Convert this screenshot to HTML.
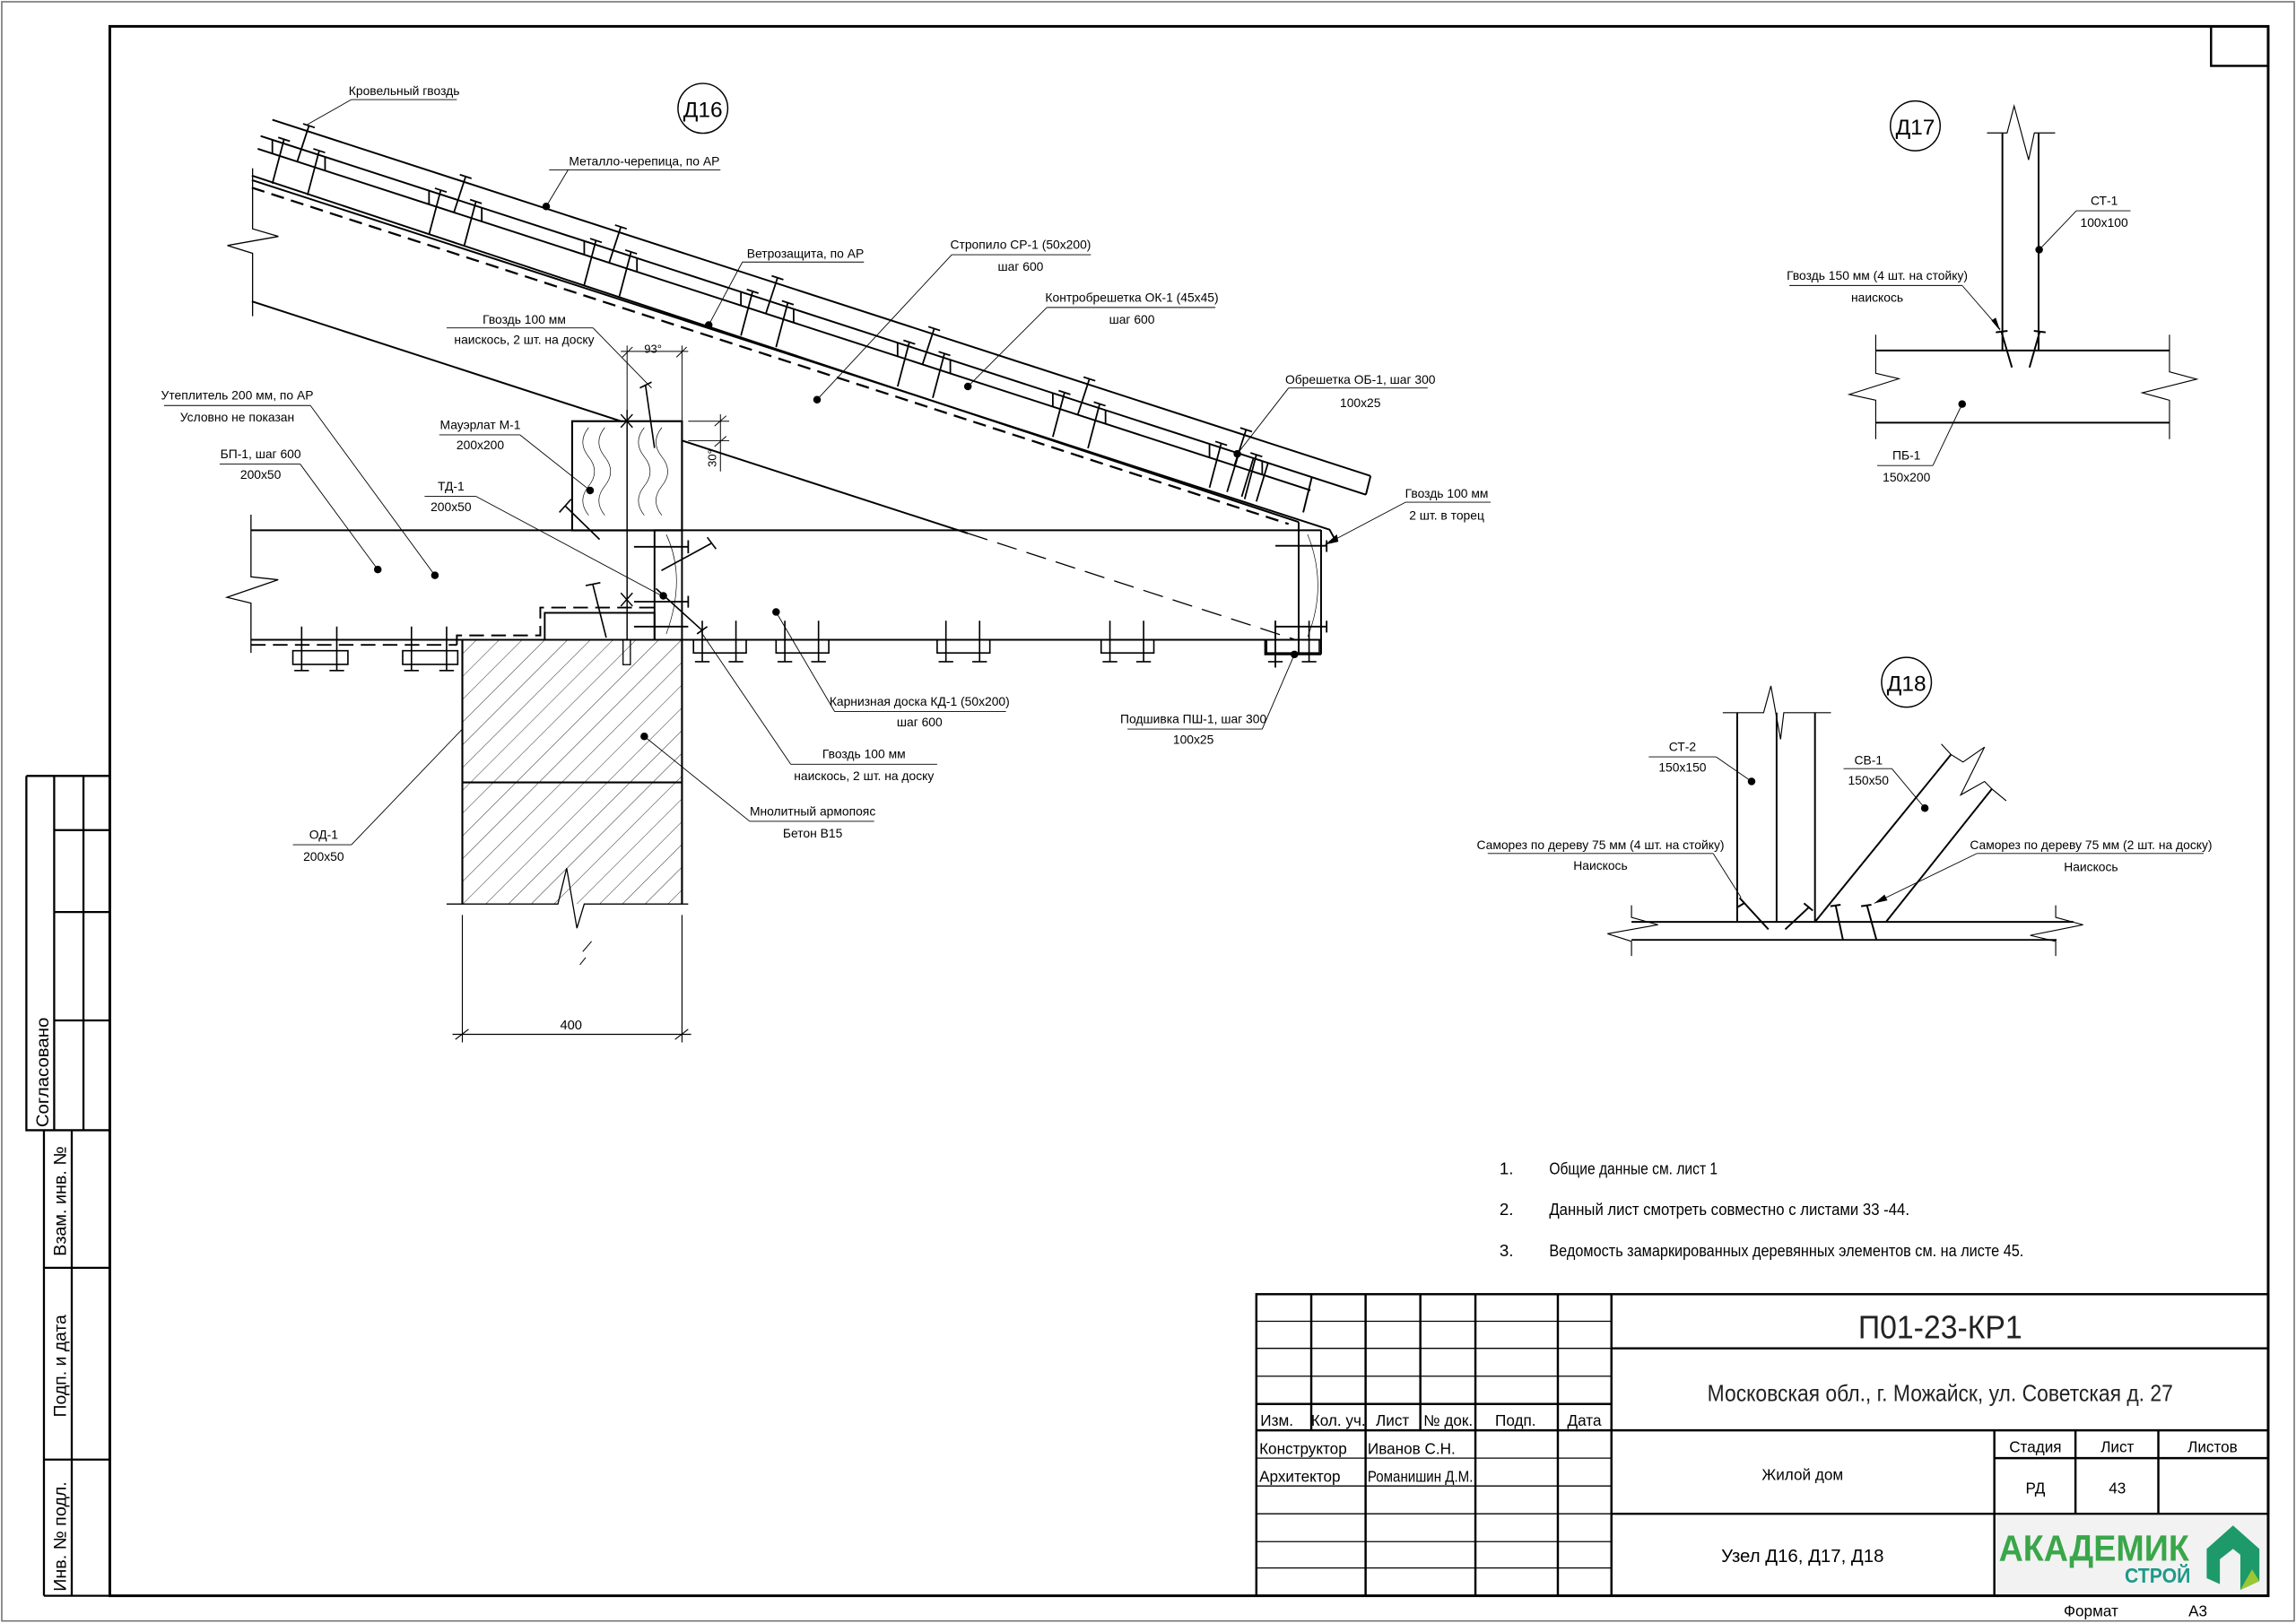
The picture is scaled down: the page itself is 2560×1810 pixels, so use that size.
<!DOCTYPE html>
<html><head><meta charset="utf-8"><style>
html,body{margin:0;padding:0;background:#fff;}
svg{display:block;}
text{font-family:"Liberation Sans Narrow","Liberation Sans","DejaVu Sans Condensed",sans-serif;fill:#000;}
</style></head><body>
<svg id="s" xmlns="http://www.w3.org/2000/svg" width="2560" height="1810" viewBox="0 0 1568 1108.6" preserveAspectRatio="none">
<defs>
<pattern id="hatch" patternUnits="userSpaceOnUse" width="11" height="11" patternTransform="rotate(45)">
<line x1="0" y1="0" x2="0" y2="11" stroke="#000" stroke-width="0.5"/>
</pattern>
<clipPath id="cb"><rect x="315.75" y="437" width="150" height="180.5"/></clipPath>
</defs>
<rect x="0" y="0" width="1568" height="1108.6" fill="#fff"/>
<rect x="1.2" y="1.2" width="1565.6" height="1106" fill="none" stroke="#777" stroke-width="1"/>
<g fill="none" stroke="#000">
<rect x="75" y="18" width="1474" height="1072" stroke-width="1.8"/>
<rect x="1510" y="18" width="39" height="27" stroke-width="1.5"/>
<path d="M18 530 H75 M18 530 V772 H75 M37 530 V772 M57 530 V772 M37 567 H75 M37 623 H75 M37 697 H75" stroke-width="1.4"/>
<path d="M30 772 V1090 M49 772 V1090 M30 866 H75 M30 997 H75 M30 1090 H75" stroke-width="1.4"/>
<g stroke-width="1.5">
<rect x="858" y="884" width="691" height="206"/>
<line x1="895.5" y1="884" x2="895.5" y2="977"/>
<line x1="932.6" y1="884" x2="932.6" y2="1090"/>
<line x1="970" y1="884" x2="970" y2="977"/>
<line x1="1007.6" y1="884" x2="1007.6" y2="1090"/>
<line x1="1063.9" y1="884" x2="1063.9" y2="1090"/>
<line x1="1100.5" y1="884" x2="1100.5" y2="1090"/>
<line x1="858" y1="959" x2="1100.5" y2="959"/>
<line x1="858" y1="977" x2="1549" y2="977"/>
<line x1="1100.5" y1="921" x2="1549" y2="921"/>
<line x1="1100.5" y1="1034" x2="1549" y2="1034"/>
<line x1="1362" y1="977" x2="1362" y2="1090"/>
<line x1="1417.4" y1="977" x2="1417.4" y2="1034"/>
<line x1="1474" y1="977" x2="1474" y2="1034"/>
<line x1="1362" y1="996" x2="1549" y2="996"/>
</g>
<g stroke-width="0.8">
<line x1="858" y1="902.5" x2="1100.5" y2="902.5"/>
<line x1="858" y1="921" x2="1100.5" y2="921"/>
<line x1="858" y1="940" x2="1100.5" y2="940"/>
<line x1="858" y1="996" x2="1100.5" y2="996"/>
<line x1="858" y1="1015" x2="1100.5" y2="1015"/>
<line x1="858" y1="1034" x2="1100.5" y2="1034"/>
<line x1="858" y1="1053" x2="1100.5" y2="1053"/>
<line x1="858" y1="1071" x2="1100.5" y2="1071"/>
</g>
</g>
<rect x="1363" y="1035" width="185" height="54" fill="#f2f2f2"/>
<text x="1365" y="1066" font-size="25" font-weight="bold" style="fill:#3aa64a" textLength="130" lengthAdjust="spacingAndGlyphs">АКАДЕМИК</text>
<text x="1451" y="1081" font-size="14" font-weight="bold" style="fill:#1e9a8a" textLength="45" lengthAdjust="spacingAndGlyphs">СТРОЙ</text>
<path d="M1525 1042 L1543 1058 L1543 1080 L1530 1086 L1530 1062 L1525 1058 L1516 1065 L1516 1082 L1507 1078 L1507 1058 Z" fill="#1e9a6a"/>
<path d="M1530 1086 L1543 1080 L1538 1072 Z" fill="#9bc832"/>

<g font-size="10.5">
<text x="872" y="974" text-anchor="middle">Изм.</text>
<text x="914" y="974" text-anchor="middle">Кол. уч.</text>
<text x="951" y="974" text-anchor="middle">Лист</text>
<text x="989" y="974" text-anchor="middle">№ док.</text>
<text x="1035" y="974" text-anchor="middle">Подп.</text>
<text x="1082" y="974" text-anchor="middle">Дата</text>
<text x="860" y="993">Конструктор</text>
<text x="860" y="1012">Архитектор</text>
<text x="934" y="993">Иванов С.Н.</text>
<text x="934" y="1012" textLength="72" lengthAdjust="spacingAndGlyphs">Романишин Д.М.</text>
<text x="1390" y="992" text-anchor="middle">Стадия</text>
<text x="1446" y="992" text-anchor="middle">Лист</text>
<text x="1511" y="992" text-anchor="middle">Листов</text>
<text x="1390" y="1020" text-anchor="middle">РД</text>
<text x="1446" y="1020" text-anchor="middle">43</text>
<text x="1231" y="1011" text-anchor="middle">Жилой дом</text>
<text x="1231" y="1067" text-anchor="middle" font-size="12.5">Узел Д16, Д17, Д18</text>
<text x="1428" y="1104" text-anchor="middle">Формат</text>
<text x="1501" y="1104" text-anchor="middle">А3</text>
</g>
<text x="1325" y="914" text-anchor="middle" font-size="22" textLength="112" lengthAdjust="spacingAndGlyphs" style="fill:#222">П01-23-КР1</text>
<text x="1325" y="957" text-anchor="middle" font-size="16" textLength="318" lengthAdjust="spacingAndGlyphs" style="fill:#222">Московская обл., г. Можайск, ул. Советская д. 27</text>
<g font-size="12">
<text transform="translate(33,770) rotate(-90)" textLength="75" lengthAdjust="spacingAndGlyphs">Согласовано</text>
<text transform="translate(45,858) rotate(-90)" textLength="75" lengthAdjust="spacingAndGlyphs">Взам. инв. №</text>
<text transform="translate(45,968) rotate(-90)" textLength="70" lengthAdjust="spacingAndGlyphs">Подп. и дата</text>
<text transform="translate(45,1087) rotate(-90)" textLength="75" lengthAdjust="spacingAndGlyphs">Инв. № подл.</text>
</g>

<g font-size="11.5">
<text x="1024" y="802">1.</text><text x="1058" y="802" textLength="115" lengthAdjust="spacingAndGlyphs">Общие данные см. лист 1</text>
<text x="1024" y="830">2.</text><text x="1058" y="830" textLength="246" lengthAdjust="spacingAndGlyphs">Данный лист смотреть совместно с листами 33 -44.</text>
<text x="1024" y="858">3.</text><text x="1058" y="858" textLength="324" lengthAdjust="spacingAndGlyphs">Ведомость замаркированных деревянных элементов см. на листе 45.</text>
</g>

<circle cx="480" cy="74" r="17" fill="none" stroke="#000" stroke-width="0.9"/>
<text x="480" y="80" font-size="15" text-anchor="middle">Д16</text>
<g id="roof" fill="none" stroke="#000" stroke-width="1.2">
<line x1="186" y1="81.8" x2="936" y2="325.1"/>
<line x1="178" y1="92.9" x2="932.8" y2="337.9"/>
<line x1="936" y1="325.1" x2="932.8" y2="337.9"/>
<line x1="176" y1="101.6" x2="895" y2="334.9"/>
<line x1="896" y1="325.5" x2="890" y2="350"/>
<line x1="172" y1="119.9" x2="886.9" y2="356.6"/>
<polyline points="172,123 908,361.8 912,369"/>
<line x1="172" y1="128.2" x2="880" y2="357.9" stroke-dasharray="9,5" stroke-width="1.4"/>
<line x1="172" y1="205.8" x2="425" y2="288"/>
<line x1="466" y1="301" x2="661" y2="364.3"/>
<line x1="661" y1="364.3" x2="884" y2="436.7" stroke-width="0.8" stroke-dasharray="14,7"/>
<polyline points="172.5,114.9 172.5,156.3 190.1,161.5 155.3,167.7 172.5,173 172.5,216" stroke-width="0.8"/>
</g>
<g id="nails" fill="none" stroke="#000" stroke-width="1.1"></g>

<g fill="none" stroke="#000" stroke-width="1.2">
<line x1="171.4" y1="362.2" x2="902.2" y2="362.2"/>
<line x1="171.4" y1="437" x2="902.2" y2="437"/>
<line x1="171.4" y1="440.5" x2="312" y2="440.5" stroke-dasharray="10,5"/>
<polyline points="312,440.5 312,434 369,434 369,415 447,415" stroke-dasharray="10,5"/>
<polyline points="171.4,351.6 171.4,394 190,396 155,408 171.4,412 171.4,446" stroke-width="0.8"/>
<rect x="390.75" y="287.7" width="75" height="74.6" stroke-width="1.3"/>
<rect x="372" y="418.6" width="75" height="18.4"/>
<rect x="447" y="362.2" width="18.75" height="74.8"/>
<line x1="428.25" y1="280" x2="428.25" y2="437" stroke-width="0.9"/>
<path d="M424 283 L432 292 M432 283 L424 292 M424 405 L432 414 M432 405 L424 414" stroke-width="0.9"/>
<rect x="425.5" y="437" width="5" height="17" stroke-width="0.8"/>
<rect x="315.75" y="437" width="150" height="180.5" fill="url(#hatch)" stroke="none" clip-path="url(#cb)"/>
<path d="M315.75 437 V617.5 M465.75 437 V617.5 M315.75 534.4 H465.75" stroke-width="1.3"/>
<polyline points="305,617.5 381,617.5 387,593 394,634 399,617.5 470,617.5" stroke-width="0.8"/>
<path d="M404 643 L398 650 M400 654 L396 659" stroke-width="0.6"/>
<path d="M315.75 625 V712 M465.75 625 V712 M309 706.5 H472 M311 710 L320 703 M461 710 L470 703" stroke-width="0.7"/>
<path d="M886.9 356.6 V447 M902.2 362 V447 M864 436.7 V447 H902.2" stroke-width="1.2"/>
<path d="M871 372.8 H906 M906 369 V377 M871 428 H906 M906 424 V432 M871 424 V456" stroke-width="1.1"/>
<path d="M386 345.6 L409.5 368.5 M382 350 L390 341" stroke-width="1"/>
<path d="M404.8 399 L414 435.5 M400 400 L410 398" stroke-width="1"/>
<path d="M440.8 263 L447 306 M437 265 L445 261" stroke-width="1"/>
<path d="M451.7 389.7 L486 371 M483 367 L489 375" stroke-width="1"/>
<path d="M433 373.5 H470 M470 369 V378 M433 411 H470 M470 407 V415 M433 428 H470" stroke-width="1.1"/>
<path d="M448 402 L480 431 M476 433 L483 428" stroke-width="1"/>
<path d="M402 292 q-8 10 0 20 q8 10 0 20 q-8 10 0 20 M413 292 q-8 10 0 20 q8 10 0 20 q-8 10 0 20 M440 292 q-8 10 0 20 q8 10 0 20 q-8 10 0 20 M452 292 q-8 10 0 20 q8 10 0 20 q-8 10 0 20 M893 365 q14 35 0 70 M455 365 q14 30 0 68" stroke-width="0.4"/>
<path d="M428.25 236 V282 M465.75 236 V287 M424 240 H470 M425 244 L432 237 M462 244 L469 237" stroke-width="0.6"/>
<path d="M470 287.7 H498 M470 301 H498 M492 283 V322 M488 291 L496 284 M488 305 L496 298" stroke-width="0.6"/>
</g>
<g id="boards" fill="none" stroke="#000" stroke-width="1"></g>
<text x="446" y="241" font-size="8" text-anchor="middle">93°</text>
<text transform="translate(489,313) rotate(-90)" font-size="8" text-anchor="middle">30°</text>
<text x="390" y="703" font-size="9" text-anchor="middle">400</text>

<g fill="none" stroke="#000" stroke-width="0.55">
<path d="M240 68 H312 M240 68 L210 85"/>
<path d="M375 116 H492 M388 116 L373 141"/>
<path d="M507 179 H590 M507 179 L484 222"/>
<path d="M650 174 H745 M650 174 L558 273"/>
<path d="M715 210 H830 M715 210 L661 264"/>
<path d="M880 265 H975 M880 265 L845 310"/>
<path d="M960 343 H1018 M960 343 L905 372"/>
<path d="M305 224 H405 M405 224 L445 265"/>
<path d="M112 277 H212 M212 277 L297 393"/>
<path d="M150 317 H205 M205 317 L258 389"/>
<path d="M300 297 H355 M355 297 L403 335"/>
<path d="M290 339 H325 M325 339 L452 407"/>
<path d="M570 486 H687 M570 486 L530 418"/>
<path d="M770 498 H862 M862 498 L884 447"/>
<path d="M540 522 H640 M540 522 L479 432"/>
<path d="M512 561 H597 M512 561 L440 503"/>
<path d="M200 577 H240 M240 577 L315.75 498"/>
</g>
<g fill="#000">
<circle cx="373" cy="141" r="2.6"/><circle cx="484" cy="222" r="2.6"/><circle cx="558" cy="273" r="2.6"/>
<circle cx="661" cy="264" r="2.6"/><circle cx="845" cy="310" r="2.6"/><circle cx="297" cy="393" r="2.6"/>
<circle cx="258" cy="389" r="2.6"/><circle cx="403" cy="335" r="2.6"/><circle cx="453" cy="407" r="2.6"/>
<circle cx="530" cy="418" r="2.6"/><circle cx="884" cy="447" r="2.6"/><circle cx="440" cy="503" r="2.6"/>
<path d="M905 372 L913 365 L914 370 Z"/>
</g>
<g font-size="8.5" text-anchor="middle">
<text x="276" y="65">Кровельный гвоздь</text>
<text x="440" y="113">Металло-черепица, по АР</text>
<text x="550" y="176">Ветрозащита, по АР</text>
<text x="697" y="170">Стропило СР-1 (50х200)</text><text x="697" y="185">шаг 600</text>
<text x="773" y="206">Контробрешетка ОК-1 (45х45)</text><text x="773" y="221">шаг 600</text>
<text x="929" y="262">Обрешетка ОБ-1, шаг 300</text><text x="929" y="278">100х25</text>
<text x="988" y="340">Гвоздь 100 мм</text><text x="988" y="355">2 шт. в торец</text>
<text x="358" y="221">Гвоздь 100 мм</text><text x="358" y="235">наискось, 2 шт. на доску</text>
<text x="162" y="273">Утеплитель 200 мм, по АР</text><text x="162" y="288">Условно не показан</text>
<text x="178" y="313">БП-1, шаг 600</text><text x="178" y="327">200х50</text>
<text x="328" y="293">Мауэрлат М-1</text><text x="328" y="307">200х200</text>
<text x="308" y="335">ТД-1</text><text x="308" y="349">200х50</text>
<text x="628" y="482">Карнизная доска КД-1 (50х200)</text><text x="628" y="496">шаг 600</text>
<text x="815" y="494">Подшивка ПШ-1, шаг 300</text><text x="815" y="508">100х25</text>
<text x="590" y="518">Гвоздь 100 мм</text><text x="590" y="533">наискось, 2 шт. на доску</text>
<text x="555" y="557">Мнолитный армопояс</text><text x="555" y="572">Бетон В15</text>
<text x="221" y="573">ОД-1</text><text x="221" y="588">200х50</text>
</g>

<circle cx="1308" cy="86" r="17" fill="none" stroke="#000" stroke-width="0.9"/>
<text x="1308" y="92" font-size="15" text-anchor="middle">Д17</text>
<g fill="none" stroke="#000" stroke-width="1.2">
<line x1="1367.5" y1="90.8" x2="1367.5" y2="239.4"/>
<line x1="1392.2" y1="90.8" x2="1392.2" y2="239.4"/>
<polyline points="1357,90.8 1370.7,90.8 1375.5,72.4 1385.4,109.2 1389.3,90.8 1403.5,90.8" stroke-width="0.7"/>
<line x1="1281" y1="239.4" x2="1481.6" y2="239.4"/>
<line x1="1281" y1="288.7" x2="1481.6" y2="288.7"/>
<polyline points="1281,228.6 1281,255 1296.8,258.7 1262.9,269.4 1281,273.4 1281,300" stroke-width="0.7"/>
<polyline points="1481.6,228.6 1481.6,254 1500.2,259 1463,268.3 1481.6,273.4 1481.6,300" stroke-width="0.7"/>
<path d="M1366.8 226.5 L1374 251 M1363 227 L1371 226 M1393 226.5 L1386 251 M1389 226 L1397 227"/>
</g>
<g fill="none" stroke="#000" stroke-width="0.55">
<path d="M1418 144 H1455 M1418 144 L1392.6 170.6"/>
<path d="M1222 195 H1340 M1340 195 L1366 225"/>
<path d="M1282 318 H1320 M1320 318 L1340 276"/>
</g>
<g fill="#000"><circle cx="1392.6" cy="170.6" r="2.6"/><circle cx="1340" cy="276" r="2.6"/><path d="M1366 226 L1360 219 L1363 217 Z"/></g>
<g font-size="8.5" text-anchor="middle">
<text x="1437" y="140">СТ-1</text><text x="1437" y="155">100х100</text>
<text x="1282" y="191">Гвоздь 150 мм (4 шт. на стойку)</text><text x="1282" y="206">наискось</text>
<text x="1302" y="314">ПБ-1</text><text x="1302" y="329">150х200</text>
</g>

<circle cx="1302" cy="466" r="17" fill="none" stroke="#000" stroke-width="0.9"/>
<text x="1302" y="472" font-size="15" text-anchor="middle">Д18</text>
<g fill="none" stroke="#000" stroke-width="1.2">
<line x1="1186.4" y1="486.8" x2="1186.4" y2="629.7"/>
<line x1="1213.3" y1="486.8" x2="1213.3" y2="629.7"/>
<line x1="1239.5" y1="486.8" x2="1239.5" y2="629.7"/>
<polyline points="1176.5,486.8 1204.4,486.8 1209.4,468.5 1216,505 1218.2,486.8 1250.4,486.8" stroke-width="0.7"/>
<line x1="1239.5" y1="629.7" x2="1332.4" y2="515.4"/>
<line x1="1288" y1="629.7" x2="1360.3" y2="538.9"/>
<polyline points="1325.8,508.2 1332.4,515.4 1340.6,520.5 1355.3,510.3 1339,543 1355.3,533.8 1360.3,538.9 1370.1,547" stroke-width="0.7"/>
<line x1="1114.2" y1="629.7" x2="1416" y2="629.7"/>
<line x1="1114.2" y1="642" x2="1404.5" y2="642"/>
<polyline points="1114.2,618.4 1114.2,626.6 1132.3,631.7 1097.8,637.8 1114.2,643 1114.2,653" stroke-width="0.7"/>
<polyline points="1403.9,618.4 1403.9,626.6 1422.6,631.7 1386.5,638.9 1403.9,643 1403.9,653" stroke-width="0.7"/>
<path d="M1188 613.3 L1207.7 634.8 M1235.6 619.5 L1219.2 634.8 M1253.6 618.4 L1258.6 642 M1250 619 L1257 618 M1275 618.4 L1281.5 642 M1271 619 L1278 618 M1232 617 L1238 622 M1186 620 L1191 617"/>
</g>
<g fill="none" stroke="#000" stroke-width="0.55">
<path d="M1126 517 H1172 M1172 517 L1196.2 533.8"/>
<path d="M1259 525 H1292 M1292 525 L1314.5 552"/>
<path d="M1016 583 H1170 M1170 583 L1189 613"/>
<path d="M1350 583 H1505 M1350 583 L1280 617"/>
</g>
<g fill="#000"><circle cx="1196.2" cy="533.8" r="2.6"/><circle cx="1314.5" cy="552" r="2.6"/><path d="M1280 617 L1287 611 L1289 615 Z"/></g>
<g font-size="8.5" text-anchor="middle">
<text x="1149" y="513">СТ-2</text><text x="1149" y="527">150х150</text>
<text x="1276" y="522">СВ-1</text><text x="1276" y="536">150х50</text>
<text x="1093" y="580">Саморез по дереву 75 мм (4 шт. на стойку)</text><text x="1093" y="594">Наискось</text>
<text x="1428" y="580">Саморез по дереву 75 мм (2 шт. на доску)</text><text x="1428" y="595">Наискось</text>
</g>
</svg>
<script>
(function(){
var NS="http://www.w3.org/2000/svg",m=0.3245;
function y(b,x){return b+m*(x-200);}
var L1=86.3,L2=100.1,L3=109.4,L4=129.0;
var g=document.getElementById("nails"),d="";
[186,293,399,506,613,719,826].forEach(function(x){
 d+="M"+x+" "+y(L2,x)+" V"+y(L3,x)+" ";
 d+="M"+(x+36)+" "+y(L2,x+36)+" V"+y(L3,x+36)+" ";
 var a=x+8;d+="M"+a+" "+(y(L2,a)-3)+" L"+x+" "+(y(L4,x)+1)+" M"+(a-4)+" "+(y(L2,a)-4.3)+" L"+(a+4)+" "+(y(L2,a)-1.7)+" ";
 a=x+25;d+="M"+a+" "+(y(L1,a)-4)+" L"+(a-8)+" "+(y(L3,a-8))+" M"+(a-4)+" "+(y(L1,a)-5.3)+" L"+(a+4)+" "+(y(L1,a)-2.7)+" ";
 a=x+32;d+="M"+a+" "+(y(L2,a)-3)+" L"+(a-8)+" "+(y(L4,a-8)+1)+" M"+(a-4)+" "+(y(L2,a)-4.3)+" L"+(a+4)+" "+(y(L2,a)-1.7)+" ";
});
d+="M846 "+(y(L2,846))+" L838 "+(y(L4,838))+" M856 "+(y(L2,856))+" L848 "+(y(L4,848))+" M866 "+(y(L2,866))+" L858 "+(y(L4,858))+" ";
var p=document.createElementNS(NS,"path");p.setAttribute("d",d);g.appendChild(p);
var b=document.getElementById("boards"),e="";
[[200,444.5],[275,444.5]].forEach(function(r){var x=r[0];e+="M"+x+" "+r[1]+" h37.6 v9.3 h-37.6 Z M"+(x+6)+" 428 V458 M"+(x+1)+" 458 h10 M"+(x+30)+" 428 V458 M"+(x+25)+" 458 h10 ";});
[473.6,530,640,752,865].forEach(function(x){e+="M"+x+" 437 v9 h36 v-9 M"+(x+6)+" 424 V452 M"+(x+1)+" 452 h10 M"+(x+29)+" 424 V452 M"+(x+24)+" 452 h10 ";});
var q=document.createElementNS(NS,"path");q.setAttribute("d",e);b.appendChild(q);
})();
</script>
</body></html>
